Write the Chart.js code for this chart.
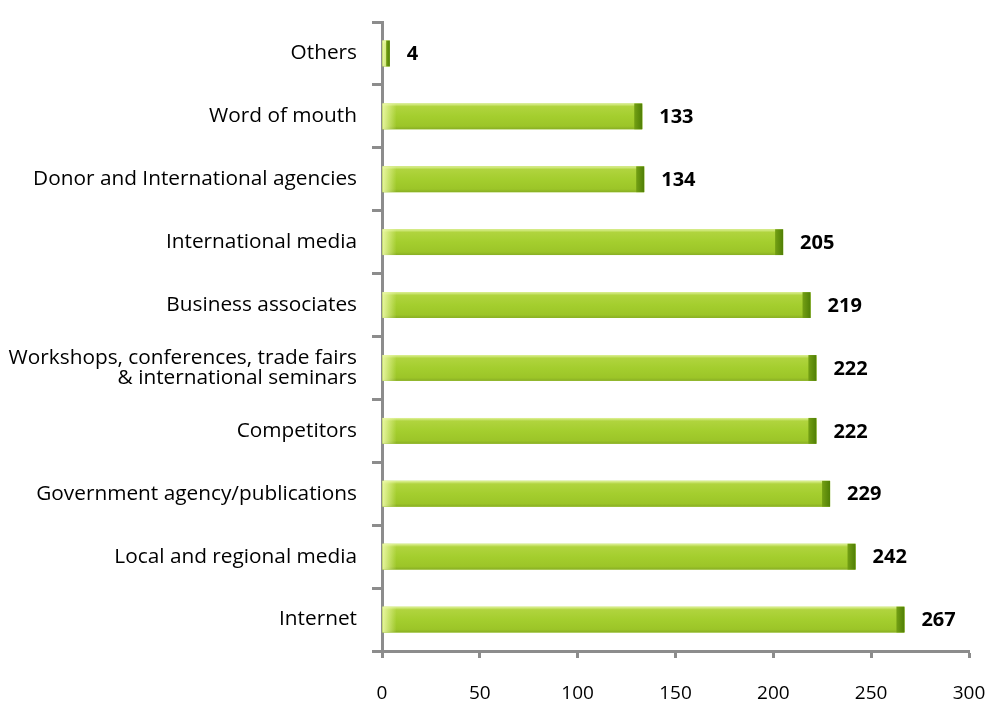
<!DOCTYPE html>
<html>
<head>
<meta charset="utf-8">
<script src="https://cdn.jsdelivr.net/npm/chart.js@4/dist/chart.umd.min.js"></script>
<style>
  html, body { margin: 0; padding: 0; background: #fff; }
  #wrap { width: 985px; height: 702px; }
</style>
</head>
<body>
<div id="wrap"><canvas id="chart" width="985" height="702"></canvas></div>
<script>
const sources = [
    'Others',
    'Word of mouth',
    'Donor and International agencies',
    'International media',
    'Business associates',
    ['Workshops, conferences, trade fairs', '& international seminars'],
    'Competitors',
    'Government agency/publications',
    'Local and regional media',
    'Internet'
]
const counts = [4, 133, 134, 205, 219, 222, 222, 229, 242, 267]
const xTicks = [0, 50, 100, 150, 200, 250, 300]

const FONT = '"Open Sans", "Noto Sans", sans-serif'
const AXIS = '#8c8c8c'

// shaded green bars: light top edge, darker bottom, pale start and dark end cap
const barShade = {
    id: 'barShade',
    afterDatasetsDraw(chart) {
        const c = chart.ctx
        chart.getDatasetMeta(0).data.forEach(bar => {
            const h = bar.height
            const top = bar.y - h / 2
            const len = bar.x - bar.base
            c.save()
            const g = c.createLinearGradient(0, top, 0, top + h)
            g.addColorStop(0, '#e0f29a')
            g.addColorStop(0.12, '#b0d43e')
            g.addColorStop(0.5, '#a4ce2e')
            g.addColorStop(0.88, '#9cc528')
            g.addColorStop(1, '#88ae24')
            c.fillStyle = g
            c.fillRect(bar.base, top, len, h)

            const s = c.createLinearGradient(bar.base, 0, bar.base + 14, 0)
            s.addColorStop(0, 'rgba(238, 250, 170, 0.9)')
            s.addColorStop(0.5, 'rgba(238, 250, 170, 0.45)')
            s.addColorStop(1, 'rgba(238, 250, 170, 0)')
            c.fillStyle = s
            c.fillRect(bar.base, top, Math.min(14, len), h)

            const cap = Math.min(8, len / 2)
            const e = c.createLinearGradient(bar.x - cap, 0, bar.x, 0)
            e.addColorStop(0, '#74a014')
            e.addColorStop(1, '#507f06')
            c.fillStyle = e
            c.fillRect(bar.x - cap, top, cap, h)
            c.restore()
        })
    }
}

const valueLabels = {
    id: 'valueLabels',
    afterDatasetsDraw(chart) {
        const c = chart.ctx
        const ds = chart.data.datasets[0]
        c.save()
        c.font = 'bold 20px ' + FONT
        c.fillStyle = '#000'
        c.textBaseline = 'middle'
        c.textAlign = 'left'
        chart.getDatasetMeta(0).data.forEach((bar, i) => {
            c.fillText(ds.data[i], bar.x + 17, bar.y + 1)
        })
        c.restore()
    }
}

new Chart(document.getElementById('chart'), {
    type: 'bar',
    data: {
        labels: sources,
        datasets: [{
            data: counts,
            backgroundColor: '#a4ce2e',
            borderWidth: 0,
            categoryPercentage: 1,
            barPercentage: 0.41
        }]
    },
    options: {
        indexAxis: 'y',
        responsive: false,
        animation: false,
        layout: { padding: { top: 22, right: 16, left: 0, bottom: 0 } },
        plugins: { legend: { display: false }, tooltip: { enabled: false } },
        scales: {
            x: {
                min: 0,
                max: 300,
                afterBuildTicks: scale => { scale.ticks = xTicks.map(v => ({ value: v })) },
                afterFit: scale => {
                    scale.height = 51
                    scale.paddingRight = 0
                    scale.paddingLeft = 0
                },
                grid: { drawOnChartArea: false, tickLength: 7, tickColor: AXIS, tickWidth: 3 },
                border: { color: AXIS, width: 3 },
                ticks: { color: '#000', padding: 24, font: { family: FONT, size: 19 } }
            },
            y: {
                afterFit: scale => {
                    scale.width = 382
                    scale.paddingTop = 0
                    scale.paddingBottom = 0
                },
                grid: { drawOnChartArea: false, tickLength: 10, tickColor: AXIS, tickWidth: 3 },
                border: { color: AXIS, width: 3 },
                ticks: { color: '#000', padding: 15, font: { family: FONT, size: 20.8, lineHeight: 0.95 } }
            }
        }
    },
    plugins: [barShade, valueLabels]
})
</script>
</body>
</html>
